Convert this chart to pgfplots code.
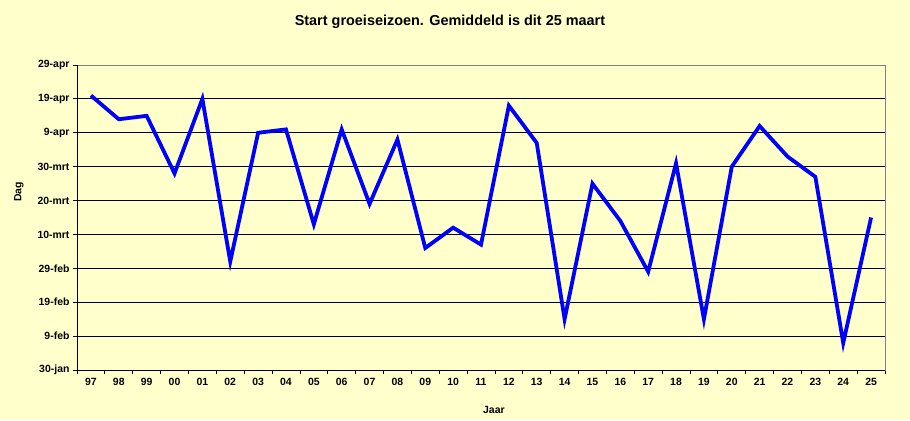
\documentclass[border=0pt]{standalone}
\usepackage{pgfplots}
\pgfplotsset{compat=1.18}
\usepackage{fontspec}
\setmainfont{Liberation Sans}
\definecolor{bg}{HTML}{FFFFCC}

% days after 30-jan (10 days per gridline)
\pgfplotstableread{
x  dag
0  81
1  74
2  75
3  58
4  80
5  32
6  70
7  71
8  43
9  71
10 49
11 68
12 36
13 42
14 37
15 78
16 67
17 15
18 55
19 44
20 29
21 61
22 15
23 60
24 72
25 63
26 57
27 8
28 45
}\startdata

\begin{document}
\begin{tikzpicture}[x=1bp,y=1bp]
\fill[bg] (0,0) rectangle (910,420);
\begin{axis}[
  at={(77bp,50bp)}, anchor=south west,
  scale only axis, width=808bp, height=305bp,
  xmin=-0.5, xmax=28.5, ymin=0, ymax=90,
  axis background/.style={fill=bg},
  axis line style={draw=gray, line width=0.8bp},
  xtick={0,...,28},
  xticklabels={97,98,99,00,01,02,03,04,05,06,07,08,09,10,11,12,13,14,15,16,17,18,19,20,21,22,23,24,25},
  minor xtick={-0.5,0.5,...,28.5},
  major x tick style={draw=none},
  minor tick length=4bp,
  ytick={0,10,...,90},
  yticklabels={30-jan,9-feb,19-feb,29-feb,10-mrt,20-mrt,30-mrt,9-apr,19-apr,29-apr},
  tick align=outside,
  major tick length=4bp,
  tick style={black, line width=0.8bp},
  xtick pos=bottom, ytick pos=left,
  ymajorgrids, grid style={black, line width=0.9bp},
  ticklabel style={font=\fontsize{10.5}{12}\selectfont\bfseries},
  xticklabel style={yshift=-1bp},
  title={Start groeiseizoen. Gemiddeld is dit 25 maart},
  title style={font=\fontsize{14.5}{16}\selectfont\bfseries, at={(axis description cs:0.4616,1.121)}, anchor=center},
  xlabel={Jaar},
  xlabel style={font=\fontsize{10.5}{12}\selectfont\bfseries, at={(axis description cs:0.516,-0.131)}, anchor=center},
  ylabel={Dag},
  ylabel style={font=\fontsize{10.5}{12}\selectfont\bfseries, at={(axis description cs:-0.0718,0.584)}, anchor=center, rotate=0},
]
\draw[black, line width=0.9bp] (rel axis cs:0,1) -- (rel axis cs:0,0) -- (rel axis cs:1,0);
\addplot[color=blue, line width=3.8bp, line join=miter, mark=none] table[x=x, y=dag] {\startdata};
\end{axis}
\end{tikzpicture}
\end{document}
